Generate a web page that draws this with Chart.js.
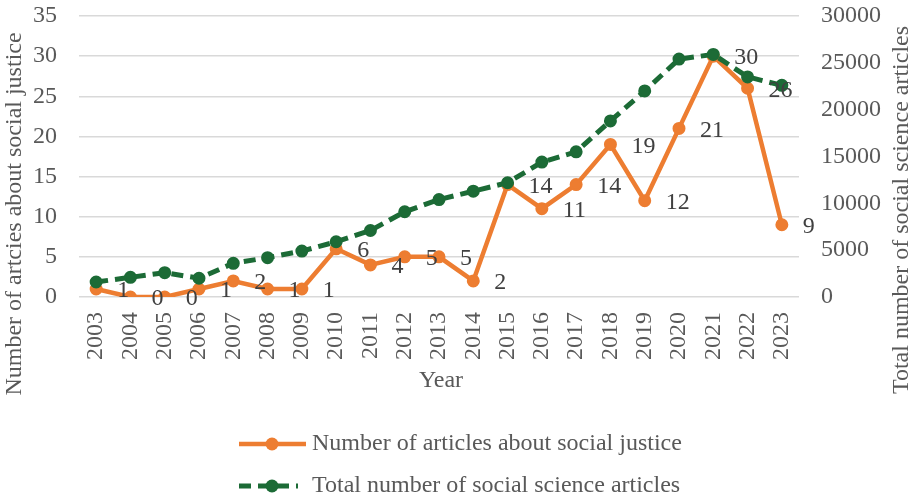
<!DOCTYPE html>
<html><head><meta charset="utf-8">
<script src="https://cdn.jsdelivr.net/npm/chart.js@4/dist/chart.umd.min.js"></script>
<style>html,body{margin:0;padding:0;background:#fff;overflow:hidden}</style>
</head><body>
<canvas id="c" width="914" height="500"></canvas>
<script>
const years = ['2003','2004','2005','2006','2007','2008','2009','2010','2011','2012','2013','2014','2015','2016','2017','2018','2019','2020','2021','2022','2023'];
const socialJustice = [1,0,0,1,2,1,1,6,4,5,5,2,14,11,14,19,12,21,30,26,9];
const totalSocialScience = [1600,2100,2600,2000,3600,4200,4900,5900,7100,9100,10400,11300,12200,14400,15500,18800,22000,25400,25900,23500,22600];
const seriesNames = ['Number of articles about social justice','Total number of social science articles'];
const xTitle = 'Year';
const leftTitle = 'Number of artcies about social justice';
const rightTitle = 'Total number of social science articles';
const leftRange = [0, 35, 5];
const rightRange = [0, 30000, 5000];

const FONT = '"Liberation Serif", "Times New Roman", serif';
const ORANGE = '#ED7D31';
const GREEN = '#1C6B36';
const TEXT = '#595959';

const overlay = {
  id: 'overlay',
  afterDatasetsDraw(chart) {
    const ctx = chart.ctx;
    const meta = chart.getDatasetMeta(0);
    ctx.save();
    ctx.font = '24px ' + FONT;
    ctx.fillStyle = '#404040';
    ctx.textAlign = 'left';
    ctx.textBaseline = 'middle';
    meta.data.forEach((p, i) => ctx.fillText(String(socialJustice[i]), p.x + 21, p.y + 2));
    ctx.restore();
  },
  afterDraw(chart) {
    const ctx = chart.ctx;
    const a = chart.chartArea;
    ctx.save();
    ctx.font = '24px ' + FONT;
    ctx.fillStyle = TEXT;
    ctx.textAlign = 'center';
    ctx.textBaseline = 'middle';
    ctx.fillText(xTitle, (a.left + a.right) / 2 + 2, 381);
    ctx.save(); ctx.translate(15, 214); ctx.rotate(-Math.PI / 2); ctx.fillText(leftTitle, 0, 0); ctx.restore();
    ctx.save(); ctx.translate(902, 210); ctx.rotate(-Math.PI / 2); ctx.fillText(rightTitle, 0, 0); ctx.restore();
    // legend
    const ds = chart.data.datasets;
    const rows = [{d: ds[0], y: 444, x1: 306}, {d: ds[1], y: 486, x1: 298}];
    rows.forEach(r => {
      ctx.save();
      ctx.strokeStyle = r.d.borderColor;
      ctx.lineWidth = r.d.borderWidth;
      ctx.setLineDash(r.d.borderDash || []);
      ctx.beginPath(); ctx.moveTo(239, r.y); ctx.lineTo(r.x1, r.y); ctx.stroke();
      ctx.setLineDash([]);
      ctx.fillStyle = r.d.pointBackgroundColor;
      ctx.beginPath(); ctx.arc(272, r.y, 6.5, 0, Math.PI * 2); ctx.fill();
      ctx.restore();
      ctx.textAlign = 'left';
      ctx.fillText(r.d.label, 312, r.y);
    });
    ctx.restore();
  }
};

const noPad = s => { s.paddingTop = 0; s.paddingBottom = 0; };

new Chart(document.getElementById('c'), {
  type: 'line',
  data: {
    labels: years,
    datasets: [
      {
        label: seriesNames[0], data: socialJustice, yAxisID: 'y', order: 1,
        borderColor: ORANGE, backgroundColor: ORANGE, borderWidth: 4.5,
        pointRadius: 5.5, pointBorderWidth: 2, pointBackgroundColor: ORANGE, pointBorderColor: ORANGE,
        tension: 0
      },
      {
        label: seriesNames[1], data: totalSocialScience, yAxisID: 'y1', order: 0,
        borderColor: GREEN, backgroundColor: GREEN, borderWidth: 5, borderDash: [12, 7],
        pointRadius: 5.5, pointBorderWidth: 2, pointBackgroundColor: GREEN, pointBorderColor: GREEN,
        tension: 0
      }
    ]
  },
  options: {
    responsive: false, devicePixelRatio: 1, animation: false,
    layout: { padding: { top: 16, bottom: 0, left: 0, right: 0 } },
    plugins: { legend: { display: false }, tooltip: { enabled: false } },
    scales: {
      x: {
        offset: true,
        grid: { display: false, drawTicks: false },
        border: { display: false },
        ticks: { autoSkip: false, minRotation: 90, maxRotation: 90, padding: 15, color: TEXT, font: { family: FONT, size: 24 } },
        afterFit: s => { s.height = 203; s.paddingLeft = 0; s.paddingRight = 0; }
      },
      y: {
        position: 'left', min: leftRange[0], max: leftRange[1],
        grid: { color: '#D9D9D9', lineWidth: 1.5, drawTicks: false },
        border: { display: false },
        ticks: { stepSize: leftRange[2], padding: 22, color: TEXT, font: { family: FONT, size: 24 } },
        afterFit: s => { s.width = 79; noPad(s); }
      },
      y1: {
        position: 'right', min: rightRange[0], max: rightRange[1],
        grid: { drawOnChartArea: false, drawTicks: false },
        border: { display: false },
        ticks: { stepSize: rightRange[2], padding: 22, color: TEXT, font: { family: FONT, size: 24 },
                 callback: v => String(v) },
        afterFit: s => { s.width = 115; noPad(s); }
      }
    }
  },
  plugins: [overlay]
});
</script>
</body></html>
